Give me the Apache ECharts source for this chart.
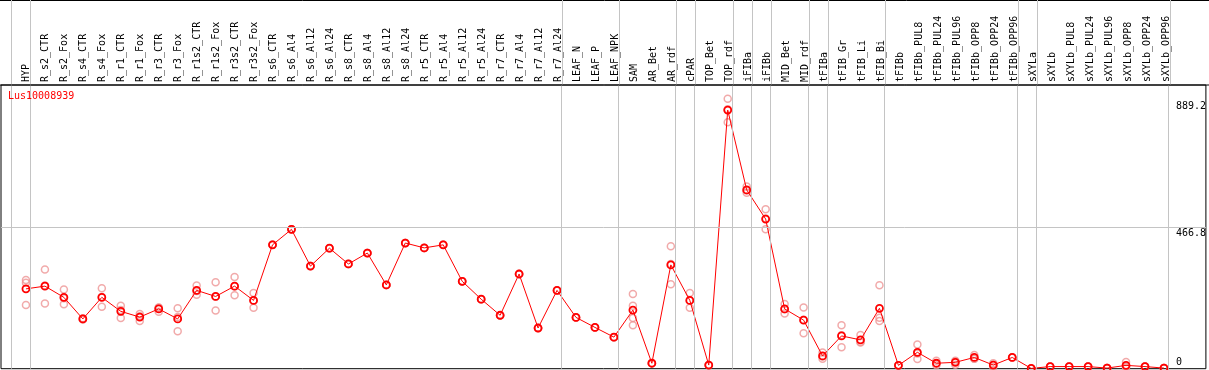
<!DOCTYPE html>
<html><head><meta charset="utf-8">
<script src="https://cdn.jsdelivr.net/npm/echarts@6/dist/echarts.min.js"></script>
<style>html,body{margin:0;padding:0;background:#fff}#c{width:1209px;height:370px}</style>
</head><body><div id="c"></div>
<script>
const title = 'Lus10008939';
const categories = ['HYP','R_s2_CTR','R_s2_Fox','R_s4_CTR','R_s4_Fox','R_r1_CTR','R_r1_Fox','R_r3_CTR','R_r3_Fox',
  'R_r1s2_CTR','R_r1s2_Fox','R_r3s2_CTR','R_r3s2_Fox','R_s6_CTR','R_s6_Al4','R_s6_Al12','R_s6_Al24',
  'R_s8_CTR','R_s8_Al4','R_s8_Al12','R_s8_Al24','R_r5_CTR','R_r5_Al4','R_r5_Al12','R_r5_Al24',
  'R_r7_CTR','R_r7_Al4','R_r7_Al12','R_r7_Al24','LEAF_N','LEAF_P','LEAF_NPK','SAM','AR_Bet','AR_rdf',
  'cPAR','TOP_Bet','TOP_rdf','iFIBa','iFIBb','MID_Bet','MID_rdf','tFIBa','tFIB_Gr','tFIB_Li','tFIB_Bi',
  'tFIBb','tFIBb_PUL8','tFIBb_PUL24','tFIBb_PUL96','tFIBb_OPP8','tFIBb_OPP24','tFIBb_OPP96','sXYLa',
  'sXYLb','sXYLb_PUL8','sXYLb_PUL24','sXYLb_PUL96','sXYLb_OPP8','sXYLb_OPP24','sXYLb_OPP96'];
const meanVals = [263,272,235,164,235,189,170,197,164,258,238,272,225,408,459,338,397,345,381,276,
  414,398,408,288,229,176,312,134,258,169,136,104,193,18,342,225,12,852,589,493,197,160,42,108,95,199,
  11,54,18,21,37,12,37,1,7,7,7,2,11,7,2];
const rep1 = [292,327,261,162,265,207,180,202,199,274,285,302,249,408,459,338,397,345,381,276,
  414,398,408,288,229,176,312,134,258,169,136,104,246,18,403,249,12,889.2,600,525,213,202,53,143,111,275,
  11,80,26,26,45,18,37,1,7,7,7,2,22,7,2];
const rep2 = [283,215,212,164,204,167,157,188,123,244,192,242,201,408,459,338,397,345,381,276,
  414,398,408,288,229,176,312,134,258,169,136,104,207,18,278,201,12,812,580,459,182,117,33,71,88,168,
  11,32,11,13,33,5,37,1,7,7,7,2,5,7,2];
const rep3 = [210,274,232,166,236,193,173,201,170,256,237,272,225,408,459,338,397,345,381,276,
  414,398,408,288,229,176,312,134,258,169,136,104,167,18,345,225,12,855,587,495,196,161,40,110,86,157,
  11,50,17,24,33,13,37,1,7,7,7,2,6,7,2];
const rep4 = {32: 143};
const groupEnds = [-1,0,28,31,34,35,37,38,39,41,42,45,52,53,60];
const yTickLabels = [0, 466.8, 889.2];

// layout
const GRID_L = 1, GRID_R = 1, W = 1209;
const X0 = 26, STEP = 19;
const XMIN = (GRID_L - X0) / STEP, XMAX = (W - GRID_R - X0) / STEP;
const SEP_OFF = 0.237;
const YMAX = 934.6;
const FONT = 'DejaVu Sans Mono';

const repData = [];
[rep1, rep2, rep3].forEach(r => r.forEach((v, i) => repData.push([i, v])));
Object.keys(rep4).forEach(k => repData.push([+k, rep4[k]]));
const meanData = meanVals.map((v, i) => [i, v]);
const sepLines = groupEnds.map(g => ({ xAxis: g + SEP_OFF }));
const gray = '#c4c4c4';
const padMap = { '0': [0,0,13,0], '466.8': [12,0,0,0], '889.2': [16,0,0,0] };

const chart = echarts.init(document.getElementById('c'), null, { renderer: 'canvas' });
chart.setOption({
  animation: false,
  backgroundColor: '#fff',
  title: { text: title, left: 8, top: 91, padding: 0,
    textStyle: { color: '#ff0000', fontSize: 10, fontFamily: FONT, fontWeight: 'normal' } },
  grid: [
    { left: GRID_L, right: GRID_R, top: 0, height: 85 },
    { left: GRID_L, right: GRID_R, top: 85, bottom: 1.3, show: true, borderColor: '#000', borderWidth: 1, backgroundColor: 'transparent' }
  ],
  xAxis: [
    { type: 'value', gridIndex: 0, min: XMIN, max: XMAX, position: 'bottom',
      axisLine: { show: false }, axisTick: { show: false }, splitLine: { show: false },
      axisLabel: { inside: true, rotate: 90, margin: 3, fontFamily: FONT, fontSize: 10, color: '#000',
        customValues: categories.map((c, i) => i), hideOverlap: false,
        formatter: v => categories[Math.round(v)] || '' } },
    { type: 'value', gridIndex: 1, min: XMIN, max: XMAX, show: false }
  ],
  yAxis: [
    { type: 'value', gridIndex: 0, min: 0, max: 1, show: false },
    { type: 'value', gridIndex: 1, min: 0, max: YMAX, position: 'right',
      axisLine: { show: false }, axisTick: { show: false }, splitLine: { show: false },
      axisLabel: { inside: true, margin: 30, align: 'left', fontFamily: FONT, fontSize: 10, color: '#000',
        customValues: yTickLabels, showMinLabel: true, showMaxLabel: true,
        formatter: v => { const s = String(v); return '{' + (s === '0' ? 'a' : s === '466.8' ? 'b' : 'c') + '|' + s + '}'; },
        rich: { a: { padding: padMap['0'], fontFamily: FONT, fontSize: 10 },
                b: { padding: padMap['466.8'], fontFamily: FONT, fontSize: 10 },
                c: { padding: padMap['889.2'], fontFamily: FONT, fontSize: 10 } } } }
  ],
  graphic: [
    { type: 'line', shape: { x1: 0, y1: 0.5, x2: W, y2: 0.5 }, style: { stroke: '#000', lineWidth: 1 }, silent: true },
    { type: 'line', shape: { x1: 0, y1: 85, x2: W, y2: 85 }, style: { stroke: '#000', lineWidth: 1 }, silent: true, z: 10 }
  ],
  series: [
    { type: 'scatter', xAxisIndex: 0, yAxisIndex: 0, data: [[XMIN, 0.5]], symbolSize: 0, silent: true, z: 1,
      markLine: { silent: true, symbol: 'none', animation: false, label: { show: false },
        lineStyle: { color: gray, width: 1, type: 'solid' }, data: sepLines } },
    { type: 'scatter', xAxisIndex: 1, yAxisIndex: 1, data: [[XMIN, 0]], symbolSize: 0, silent: true, z: 1,
      markLine: { silent: true, symbol: 'none', animation: false, label: { show: false },
        lineStyle: { color: gray, width: 1, type: 'solid' },
        data: sepLines.concat([{ yAxis: yTickLabels[1] }]) } },
    { type: 'scatter', xAxisIndex: 1, yAxisIndex: 1, data: repData, symbol: 'circle', symbolSize: 7,
      clip: false, z: 3, silent: true,
      itemStyle: { color: 'rgba(0,0,0,0)', borderColor: '#ee9595', borderWidth: 1.5 } },
    { type: 'line', xAxisIndex: 1, yAxisIndex: 1, data: meanData, symbol: 'circle', symbolSize: 7,
      showAllSymbol: true, clip: false, z: 4, silent: true,
      lineStyle: { color: '#ff0000', width: 1 },
      itemStyle: { color: 'rgba(0,0,0,0)', borderColor: '#ff0000', borderWidth: 1.8 } }
  ]
});
</script></body></html>
